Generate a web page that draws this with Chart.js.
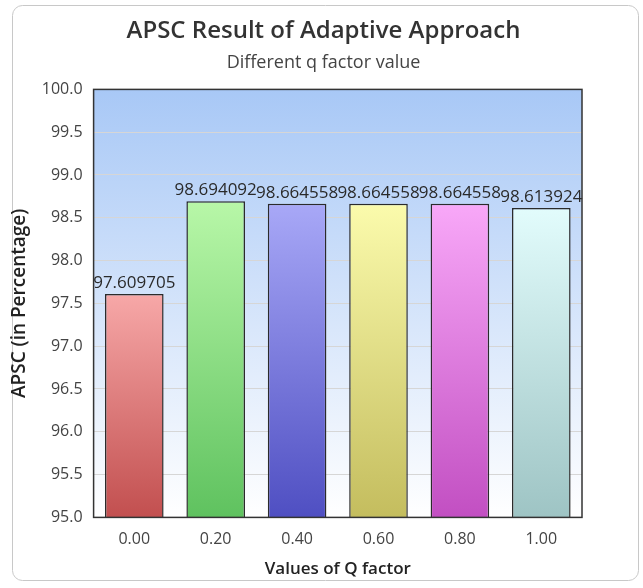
<!DOCTYPE html>
<html lang="en">
<head>
    <meta charset="UTF-8">
    <title>APSC Result of Adaptive Approach</title>
    <script src="https://cdn.jsdelivr.net/npm/chart.js"></script>
    <style>
        body { margin: 0; background: #fff; }
        #wrap { width: 643px; height: 588px; position: relative; }
    </style>
</head>
<body>
<div id="wrap"><canvas id="myChart" width="643" height="588"></canvas></div>
<script>
    // chart data
    const qFactors = ['0.00', '0.20', '0.40', '0.60', '0.80', '1.00'];
    const apscValues = [97.609705, 98.694092, 98.664558, 98.664558, 98.664558, 98.613924];
    const topColors = ['#f7a8a8', '#b8f7a8', '#a8a8f7', '#fbfbac', '#f8a8f8', '#e2fcfc'];
    const bottomColors = ['#c24f4f', '#5fc25f', '#4f4fc2', '#c4bd5e', '#c24fc2', '#9ec4c4'];

    // frame and plot-area background
    const backdrop = {
        id: 'backdrop',
        beforeDraw(chart) {
            const ctx = chart.ctx;
            ctx.save();
            ctx.strokeStyle = '#c8c8c8';
            ctx.lineWidth = 1;
            ctx.beginPath();
            ctx.roundRect(12.5, 5.5, 626, 575, 10);
            ctx.stroke();
            const a = chart.chartArea;
            const g = ctx.createLinearGradient(0, a.top, 0, a.bottom);
            g.addColorStop(0, '#a8c8f6');
            g.addColorStop(1, '#ffffff');
            ctx.fillStyle = g;
            ctx.fillRect(a.left, a.top, a.right - a.left, a.bottom - a.top);
            ctx.restore();
        },
        afterDraw(chart) {
            const ctx = chart.ctx, a = chart.chartArea;
            ctx.save();
            ctx.strokeStyle = '#333';
            ctx.lineWidth = 1.5;
            ctx.strokeRect(a.left, a.top, a.right - a.left, a.bottom - a.top);
            ctx.restore();
        }
    };

    // value labels above each bar
    const valueLabels = {
        id: 'valueLabels',
        afterDatasetsDraw(chart) {
            const ctx = chart.ctx;
            const meta = chart.getDatasetMeta(0);
            ctx.save();
            ctx.font = '17px "Open Sans"';
            ctx.fillStyle = '#2a2a2a';
            ctx.textAlign = 'center';
            ctx.textBaseline = 'alphabetic';
            meta.data.forEach((bar, i) => {
                ctx.fillText(String(apscValues[i]), bar.x, bar.y - 6);
            });
            ctx.restore();
        }
    };

    function barGradient(context) {
        const chart = context.chart;
        if (!chart.chartArea) return topColors[context.dataIndex];
        const y = chart.scales.y;
        const top = y.getPixelForValue(apscValues[context.dataIndex]);
        const g = chart.ctx.createLinearGradient(0, top, 0, chart.chartArea.bottom);
        g.addColorStop(0, topColors[context.dataIndex]);
        g.addColorStop(1, bottomColors[context.dataIndex]);
        return g;
    }

    const ctx = document.getElementById('myChart').getContext('2d');
    new Chart(ctx, {
        type: 'bar',
        data: {
            labels: qFactors,
            datasets: [{
                data: apscValues,
                backgroundColor: barGradient,
                borderColor: '#2b2b2b',
                borderWidth: 1.5,
                borderSkipped: false,
                barPercentage: 0.72,
                categoryPercentage: 1
            }]
        },
        plugins: [backdrop, valueLabels],
        options: {
            responsive: false,
            animation: false,
            layout: { padding: { left: 4, right: 0, top: 13, bottom: 5 } },
            plugins: {
                legend: { display: false },
                tooltip: { enabled: false },
                title: {
                    display: true,
                    text: 'APSC Result of Adaptive Approach',
                    color: '#333',
                    font: { family: 'Open Sans', size: 24, weight: '600' },
                    padding: { top: 4, bottom: 6 }
                },
                subtitle: {
                    display: true,
                    text: 'Different q factor value',
                    color: '#444',
                    font: { family: 'Open Sans', size: 18 },
                    padding: { bottom: 16 }
                }
            },
            scales: {
                x: {
                    grid: { display: false },
                    border: { display: false },
                    ticks: { color: '#444', font: { family: 'Open Sans', size: 16 }, padding: 4 },
                    title: {
                        display: true,
                        text: 'Values of Q factor',
                        color: '#222',
                        font: { family: 'Open Sans', size: 17, weight: '600' },
                        padding: { top: 6 }
                    }
                },
                y: {
                    min: 95,
                    max: 100,
                    grid: { color: '#d6d6d6', drawTicks: false },
                    border: { display: false },
                    ticks: {
                        stepSize: 0.5,
                        color: '#444',
                        padding: 11,
                        font: { family: 'Open Sans', size: 16 },
                        callback: v => Number(v).toFixed(1)
                    },
                    title: {
                        display: true,
                        text: 'APSC (in Percentage)',
                        color: '#222',
                        font: { family: 'Open Sans', size: 19, weight: '600' },
                        padding: { bottom: 0 }
                    }
                },
                // empty right-hand axis, only reserves the white margin right of the plot
                yRight: {
                    position: 'right',
                    grid: { display: false },
                    border: { display: false },
                    ticks: { display: false },
                    afterFit(scale) { scale.width = 61; }
                }
            }
        }
    });
</script>
</body>
</html>
